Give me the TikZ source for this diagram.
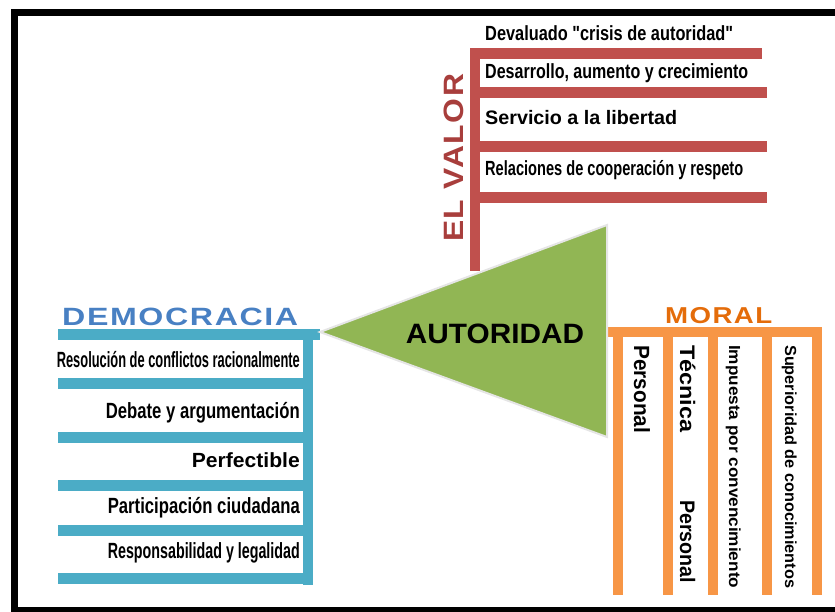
\documentclass[tikz,border=0pt]{standalone}
\usepackage{fontspec}
\setmainfont{Liberation Sans}[Ligatures=TeXOff]
\usepackage{graphicx}

\definecolor{valorred}{RGB}{192,80,77}
\definecolor{valortext}{RGB}{168,62,60}
\definecolor{demblue}{RGB}{75,172,198}
\definecolor{demtitle}{RGB}{72,128,195}
\definecolor{moralorange}{RGB}{247,150,70}
\definecolor{moraltitle}{RGB}{228,108,10}
\definecolor{autgreen}{RGB}{145,182,84}

% stretch a text to a given width, keep its height
\newcommand{\fitw}[2]{\resizebox{#1}{\height}{#2}}

\tikzset{
  item/.style={inner sep=0pt, font=\bfseries\fontsize{20.5}{21}\selectfont},
  demitem/.style={item, anchor=base east, font=\bfseries\fontsize{22}{22}\selectfont},
  valitem/.style={item, anchor=base west},
  moritem/.style={item, anchor=base west, rotate=-90},
  title/.style={inner sep=0pt, anchor=base west, font=\bfseries\fontsize{25}{25}\selectfont}
}

\begin{document}
\begin{tikzpicture}[x=1pt,y=-1pt]
        \useasboundingbox (0,0) rectangle (835,612);

        % frame
        \draw[line width=7pt] (845,12.5) -- (14.5,12.5) -- (14.5,610.5) -- (845,610.5);

        % el valor bars
        \fill[valorred] (470,48) rectangle (480,271);
        \foreach \y/\r in {48/762,87/767,141/767,192/767}
            \fill[valorred] (470,\y) rectangle (\r,\y+11);

        % democracia bars
        \fill[demblue] (303,329) rectangle (313,585);
        \fill[demblue] (58,329) rectangle (320,340);
        \foreach \y in {378,432,480,525,573}
            \fill[demblue] (58,\y) rectangle (313,\y+11);

        % moral bars
        \fill[moralorange] (608,327) rectangle (822,337);
        \foreach \x in {613,663,708,762,812}
            \fill[moralorange] (\x,327) rectangle (\x+10,595);

        % autoridad
        \filldraw[fill=autgreen, draw=gray!20, line width=2pt] (320,332) -- (607,225) -- (607,437) -- cycle;
        \node[inner sep=0pt, anchor=base, font=\bfseries\fontsize{28}{28}\selectfont] (aut) at (495,343)
            {\fitw{178pt}{AUTORIDAD}};

        % titles
        \node[title, text=demtitle] (dem) at (62,325) {\fitw{236pt}{\addfontfeature{LetterSpace=5}DEMOCRACIA}};
        \node[title, text=moraltitle, font=\bfseries\fontsize{23}{23}\selectfont] (mor) at (665,323) {\fitw{107pt}{\addfontfeature{LetterSpace=5}MORAL}};
        \node[title, text=valortext, rotate=90, font=\bfseries\fontsize{28}{28}\selectfont] (val) at (463,242) {\fitw{168pt}{\addfontfeature{LetterSpace=5}EL VALOR}};

        % el valor items
        \node[valitem] (dev) at (485,41) {\fitw{248pt}{Devaluado "crisis de autoridad"}};
        \node[valitem] (des) at (485,79) {\fitw{263pt}{Desarrollo, aumento y crecimiento}};
        \node[valitem, font=\bfseries\fontsize{19.5}{20}\selectfont] (ser) at (485,125) {\fitw{192pt}{Servicio a la libertad}};
        \node[valitem] (rel) at (485,176) {\fitw{258pt}{Relaciones de cooperación y respeto}};

        % democracia items
        \node[demitem] (res) at (300,367) {\fitw{243pt}{Resolución de conflictos racionalmente}};
        \node[demitem] (deb) at (300,418) {\fitw{194pt}{Debate y argumentación}};
        \node[demitem, font=\bfseries\fontsize{20.5}{21}\selectfont] (prf) at (300,467) {\fitw{108pt}{Perfectible}};
        \node[demitem] (par) at (300,513) {\fitw{192pt}{Participación ciudadana}};
        \node[demitem] (rsp) at (300,558) {\fitw{192pt}{Responsabilidad y legalidad}};

        % moral items
        \node[moritem, font=\bfseries\fontsize{22}{22}\selectfont] (pers) at (634,345) {\fitw{88pt}{Personal}};
        \node[moritem, font=\bfseries\fontsize{21}{21}\selectfont] (tec) at (680,345) {\fitw{87pt}{Técnica}};
        \node[moritem, font=\bfseries\fontsize{21}{21}\selectfont] (tecp) at (680,500) {\fitw{83pt}{Personal}};
        \node[moritem, font=\bfseries\fontsize{16}{16}\selectfont] (imp) at (729,345) {\fitw{243pt}{Impuesta por convencimiento}};
        \node[moritem, font=\bfseries\fontsize{16}{16}\selectfont] (sup) at (785,345) {\fitw{243pt}{Superioridad de conocimientos}};
\end{tikzpicture}
\end{document}
